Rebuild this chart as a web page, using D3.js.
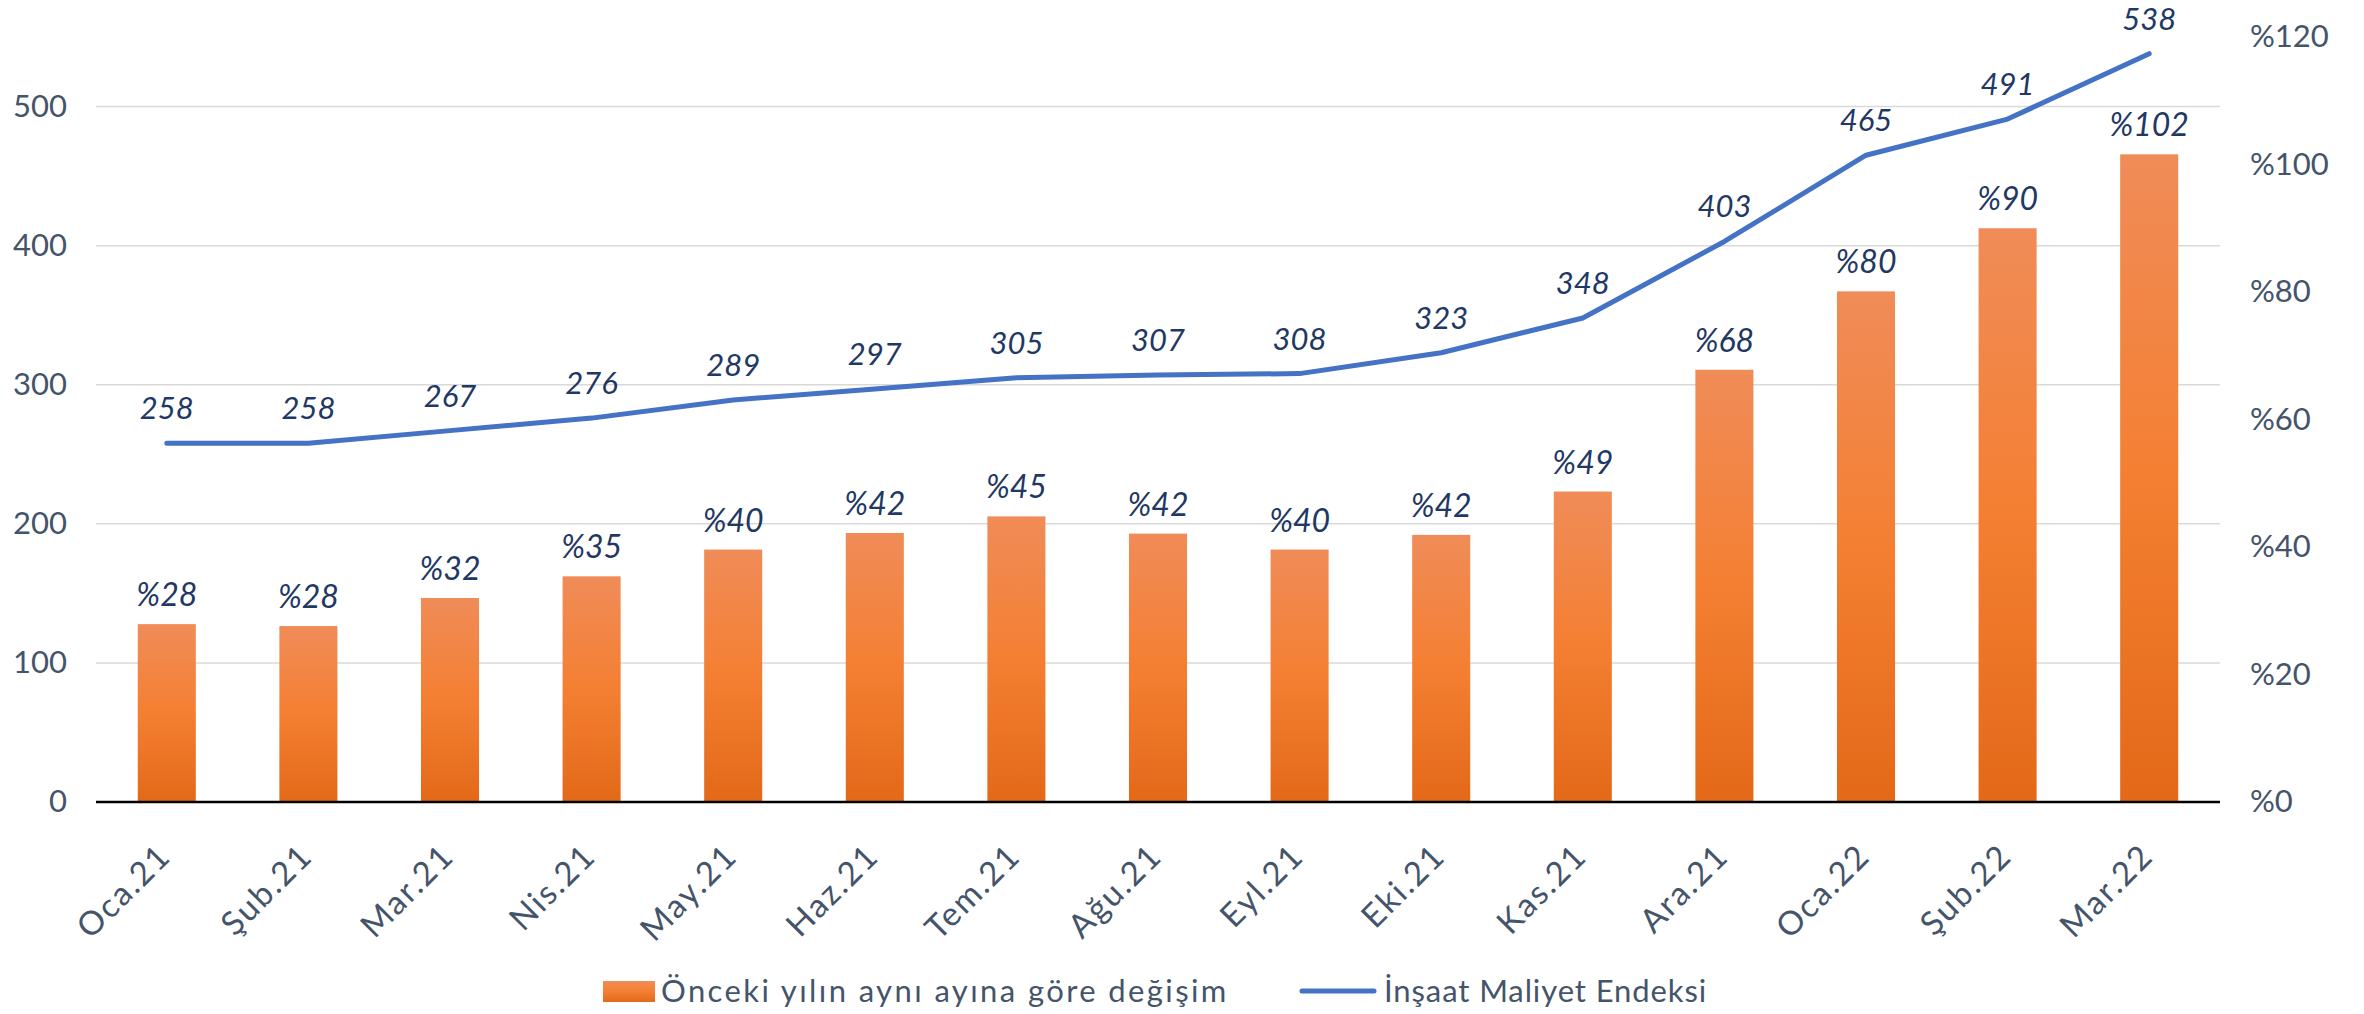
<!DOCTYPE html>
<html>
<head>
<meta charset="utf-8">
<script src="https://cdn.jsdelivr.net/npm/d3@7"></script>
<style>
  body { margin: 0; background: #fff; }
  svg text { font-family: Lato, "Open Sans", sans-serif; }
</style>
</head>
<body>
<div id="chart"></div>
<script>
// Months (x axis)
const months = ["Oca.21", "Şub.21", "Mar.21", "Nis.21", "May.21", "Haz.21", "Tem.21",
  "Ağu.21", "Eyl.21", "Eki.21", "Kas.21", "Ara.21", "Oca.22", "Şub.22", "Mar.22"];

// Yearly change, % (bars, right axis)
const yearlyChange = [27.9, 27.6, 32.0, 35.4, 39.6, 42.2, 44.8, 42.1, 39.6, 41.9, 48.7, 67.8, 80.1, 90.0, 101.6];

// Construction cost index (line, left axis)
const costIndex = [258, 258, 267, 276, 289, 297, 305, 307, 308, 323, 348, 403, 465, 491, 538];

const leftTicks = [0, 100, 200, 300, 400, 500];
const rightTicks = [0, 20, 40, 60, 80, 100, 120];

const barLegend = "Önceki yılın aynı ayına göre değişim";
const lineLegend = "İnşaat Maliyet Endeksi";

const width = 2364, height = 1014;
const margin = { top: 37, right: 144, bottom: 212, left: 96 };
const innerW = width - margin.left - margin.right;
const innerH = height - margin.top - margin.bottom;

const axisColor = "#44546A";
const labelColor = "#1F3864";

const svg = d3.select("#chart").append("svg")
  .attr("width", width)
  .attr("height", height);

// gradient for the bars
const defs = svg.append("defs");
const grad = defs.append("linearGradient")
  .attr("id", "barGrad")
  .attr("x1", 0).attr("y1", 0).attr("x2", 0).attr("y2", 1);
grad.append("stop").attr("offset", "0%").attr("stop-color", "#F08C58");
grad.append("stop").attr("offset", "50%").attr("stop-color", "#F47F32");
grad.append("stop").attr("offset", "100%").attr("stop-color", "#E36918");

const g = svg.append("g").attr("transform", `translate(${margin.left},${margin.top})`);

// scales
const x = d3.scaleBand().domain(months).range([0, innerW]).paddingInner(0.59).paddingOuter(0.295);
const yLeft = d3.scaleLinear().domain([0, 550]).range([innerH, 0]);
const yRight = d3.scaleLinear().domain([0, 120]).range([innerH, 0]);
const cx = (d) => x(d) + x.bandwidth() / 2;

// gridlines
g.append("g")
  .selectAll("line")
  .data(leftTicks.slice(1))
  .join("line")
  .attr("x1", 0)
  .attr("x2", innerW)
  .attr("y1", (d) => yLeft(d))
  .attr("y2", (d) => yLeft(d))
  .attr("stroke", "#D9D9D9")
  .attr("stroke-width", 1.5);

// left axis
const leftAxis = g.append("g")
  .call(d3.axisLeft(yLeft).tickValues(leftTicks).tickSize(0).tickPadding(29));
leftAxis.select(".domain").remove();
leftAxis.selectAll("text")
  .attr("fill", axisColor)
  .style("font-size", "31px");

// right axis
const rightAxis = g.append("g")
  .attr("transform", `translate(${innerW},0)`)
  .call(d3.axisRight(yRight).tickValues(rightTicks).tickSize(0).tickPadding(30)
    .tickFormat((d) => "%" + d));
rightAxis.select(".domain").remove();
rightAxis.selectAll("text")
  .attr("fill", axisColor)
  .style("font-size", "31px");

// bars
g.append("g")
  .selectAll("rect")
  .data(yearlyChange)
  .join("rect")
  .attr("x", (d, i) => x(months[i]))
  .attr("width", x.bandwidth())
  .attr("y", (d) => yRight(d))
  .attr("height", (d) => innerH - yRight(d))
  .attr("fill", "url(#barGrad)");

// x axis line
g.append("line")
  .attr("x1", 0)
  .attr("x2", innerW)
  .attr("y1", innerH)
  .attr("y2", innerH)
  .attr("stroke", "#000")
  .attr("stroke-width", 2.5);

// x axis labels (rotated)
const bottomAxis = g.append("g")
  .attr("transform", `translate(0,${innerH})`)
  .call(d3.axisBottom(x).tickSize(0));
bottomAxis.select(".domain").remove();
bottomAxis.selectAll("text")
  .attr("fill", axisColor)
  .style("font-size", "33px")
  .style("letter-spacing", "2px")
  .attr("text-anchor", "end")
  .attr("dy", null)
  .attr("y", 0)
  .attr("transform", "translate(6,56) rotate(-45)");

// line
const line = d3.line()
  .x((d, i) => cx(months[i]))
  .y((d) => yLeft(d));

g.append("path")
  .datum(costIndex)
  .attr("d", line)
  .attr("fill", "none")
  .attr("stroke", "#4472C4")
  .attr("stroke-width", 5)
  .attr("stroke-linecap", "round")
  .attr("stroke-linejoin", "round");

// bar labels
g.append("g")
  .selectAll("text")
  .data(yearlyChange)
  .join("text")
  .attr("x", (d, i) => cx(months[i]))
  .attr("y", (d) => yRight(d) - 18)
  .attr("text-anchor", "middle")
  .attr("fill", labelColor)
  .style("font-size", "32px")
  .style("font-style", "italic")
  .text((d) => "%" + Math.round(d));

// line labels
g.append("g")
  .selectAll("text")
  .data(costIndex)
  .join("text")
  .attr("x", (d, i) => cx(months[i]))
  .attr("y", (d) => yLeft(d) - 24)
  .attr("text-anchor", "middle")
  .attr("fill", labelColor)
  .style("font-size", "31px")
  .style("font-style", "italic")
  .text((d) => d);

// legend
const legend = svg.append("g").attr("transform", "translate(0,991)");
legend.append("rect")
  .attr("x", 603)
  .attr("y", -10)
  .attr("width", 52)
  .attr("height", 21)
  .attr("fill", "url(#barGrad)");
legend.append("text")
  .attr("x", 661)
  .attr("y", 11)
  .attr("fill", axisColor)
  .style("font-size", "31px")
  .style("letter-spacing", "2.4px")
  .text(barLegend);
legend.append("line")
  .attr("x1", 1302)
  .attr("x2", 1374)
  .attr("y1", 0)
  .attr("y2", 0)
  .attr("stroke", "#4472C4")
  .attr("stroke-width", 5)
  .attr("stroke-linecap", "round");
legend.append("text")
  .attr("x", 1384)
  .attr("y", 11)
  .attr("fill", axisColor)
  .style("font-size", "31px")
  .style("letter-spacing", "0.9px")
  .text(lineLegend);
</script>
</body>
</html>
